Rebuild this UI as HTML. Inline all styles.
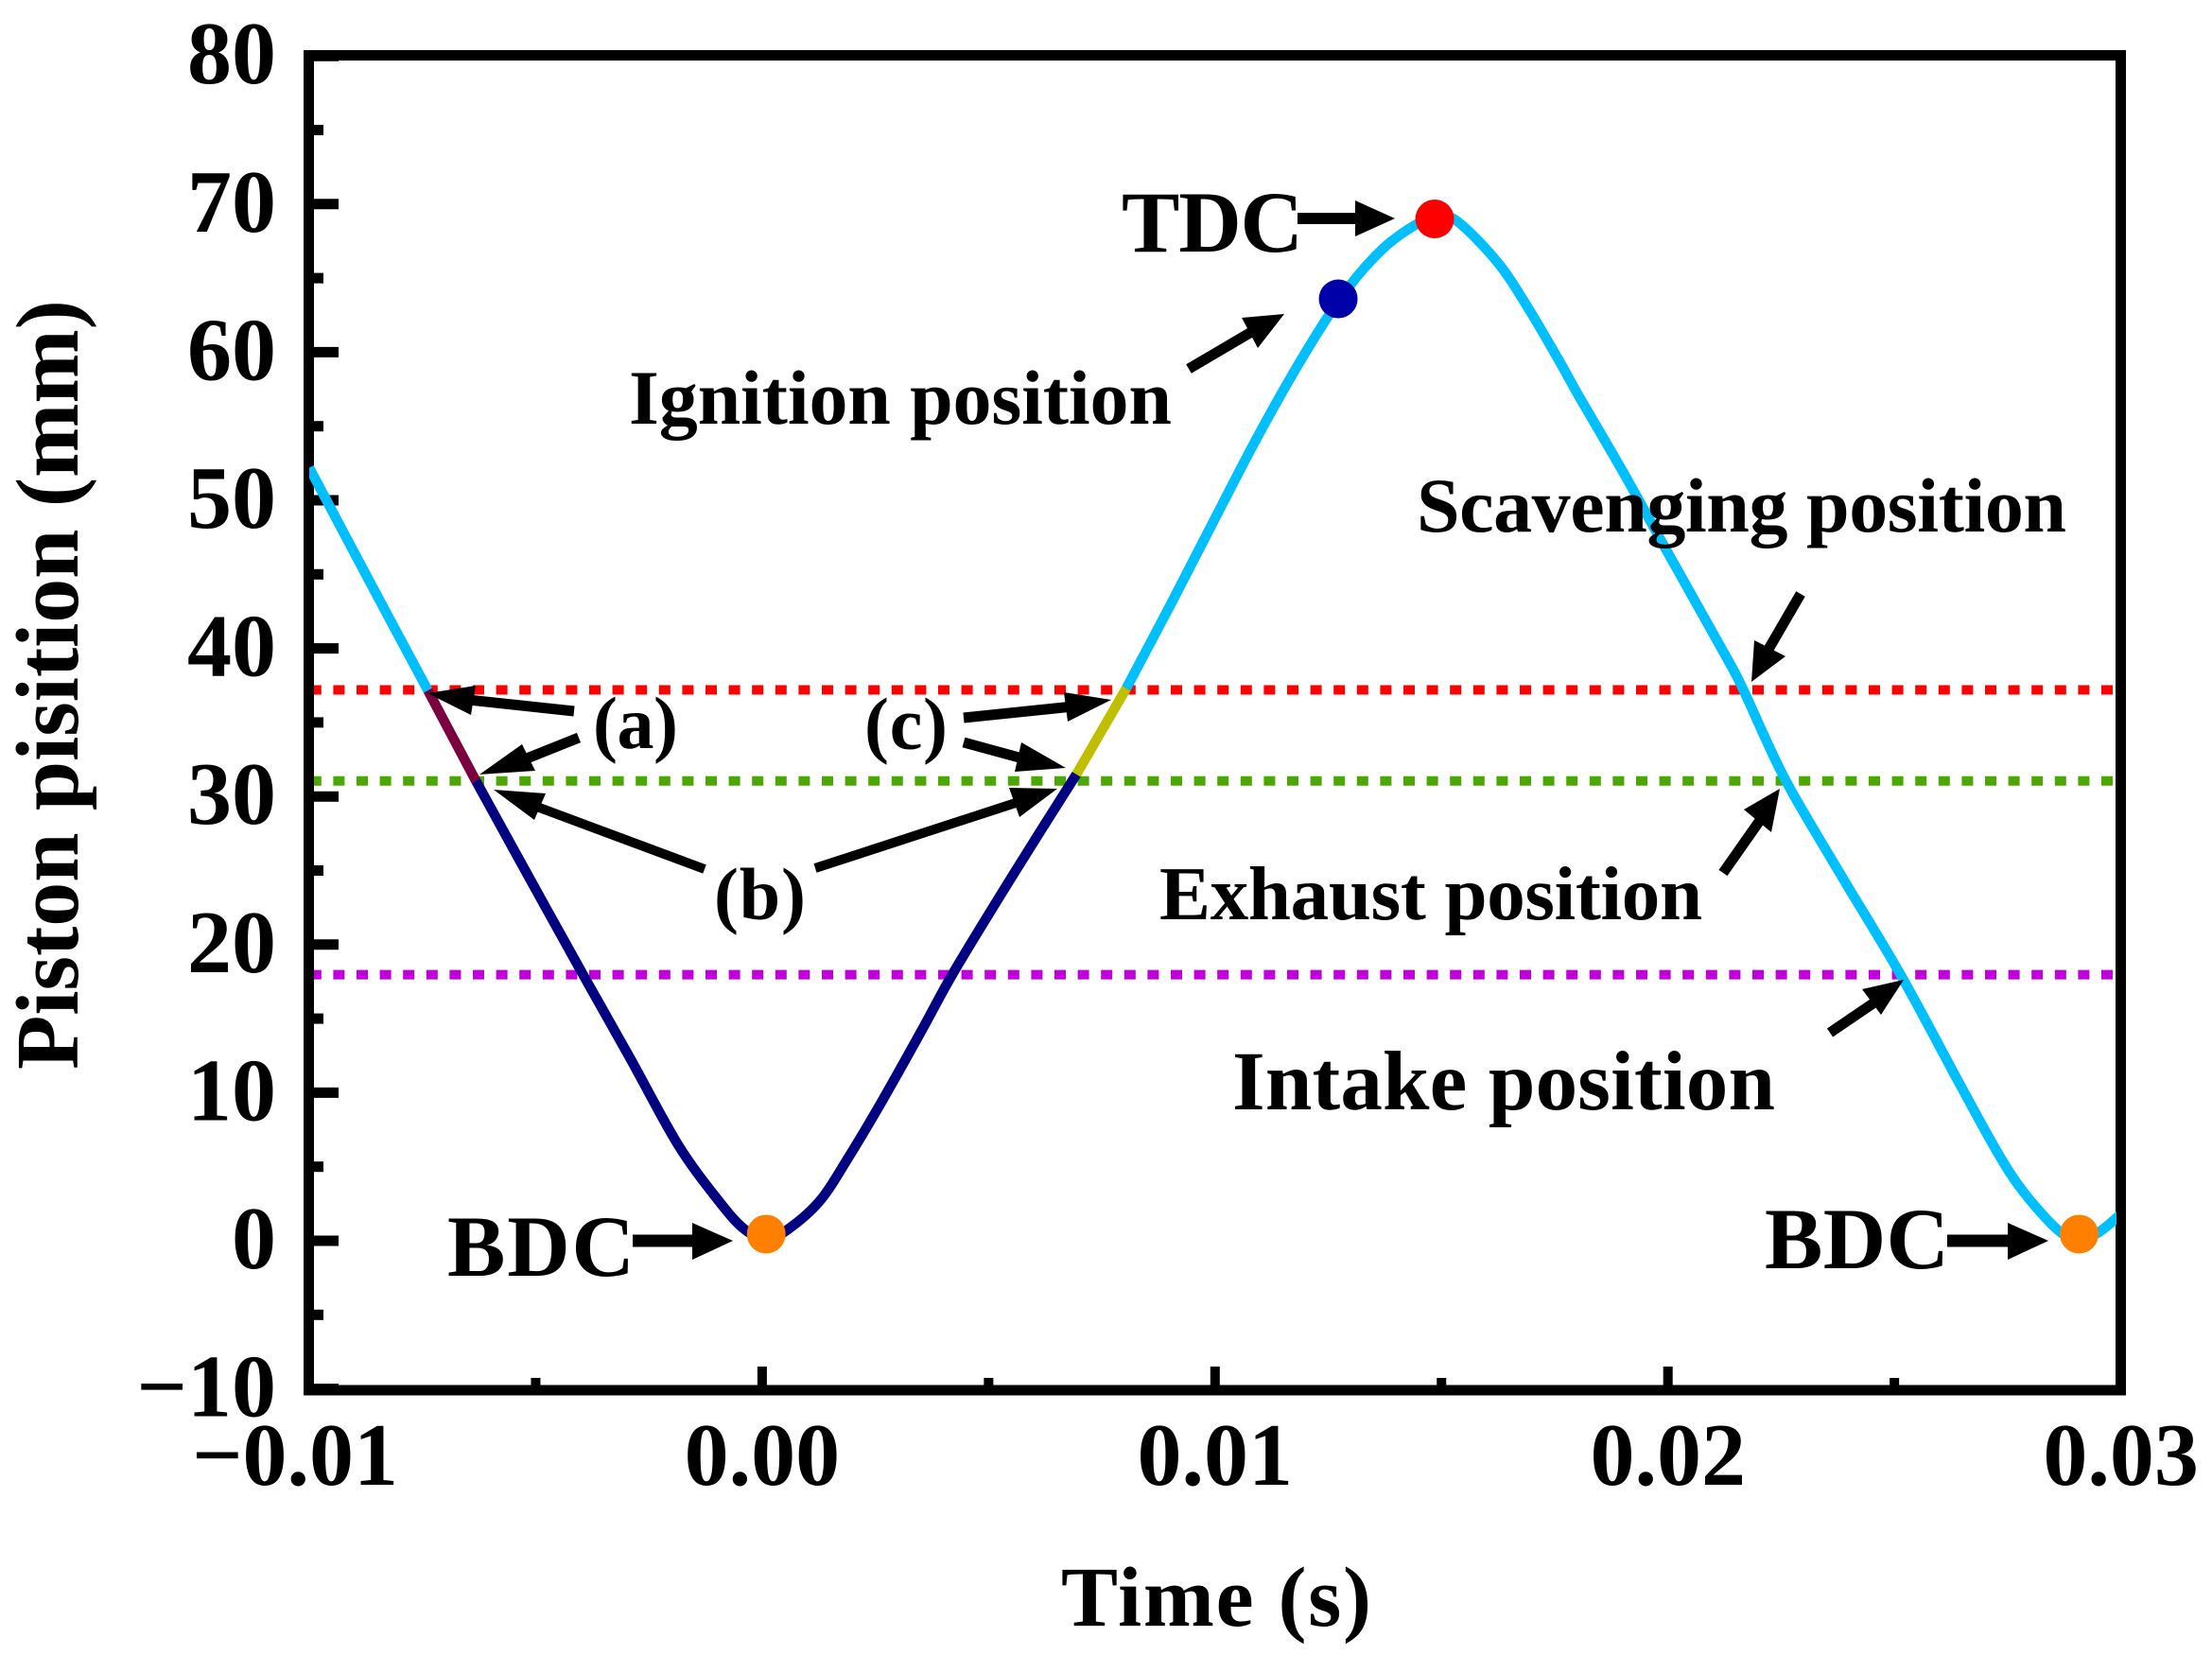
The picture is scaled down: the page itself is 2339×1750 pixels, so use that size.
<!DOCTYPE html>
<html lang="en">
<head>
<meta charset="utf-8">
<title>Piston position over time</title>
<style>
html,body{margin:0;padding:0;background:#fff;}
#chart{display:block;width:2339px;height:1750px;}
text{font-family:"Liberation Serif",serif;font-weight:bold;fill:#000;}
</style>
</head>
<body>
<svg id="chart" xmlns="http://www.w3.org/2000/svg" width="2339" height="1750" viewBox="0 0 2339 1750">
  <defs>
    <clipPath id="plot-clip"><rect x="327" y="50" width="1911" height="1430"/></clipPath>
  </defs>
  <g id="grid-layer"></g>
  <g id="axis-layer"></g>
  <g id="series-layer" clip-path="url(#plot-clip)"></g>
  <g id="marker-layer"></g>

  <text x="82" y="1131" font-size="94" transform="rotate(-90 82 1131)" textLength="814" lengthAdjust="spacing">Piston pisition (mm)</text>
  <text x="1122" y="1719" font-size="90" textLength="328" lengthAdjust="spacing">Time (s)</text>

  <g>
    <text x="1186" y="266" font-size="92" textLength="192" lengthAdjust="spacing">TDC</text>
    <text x="665" y="448" font-size="82" textLength="574" lengthAdjust="spacing">Ignition position</text>
    <text x="1498" y="562" font-size="82" textLength="687" lengthAdjust="spacing">Scavenging position</text>
    <text x="1226" y="972" font-size="81" textLength="574" lengthAdjust="spacing">Exhaust position</text>
    <text x="1303" y="1173" font-size="89" textLength="574" lengthAdjust="spacing">Intake position</text>
    <text x="473" y="1349" font-size="92" textLength="198" lengthAdjust="spacing">BDC</text>
    <text x="1866" y="1341" font-size="92" textLength="195" lengthAdjust="spacing">BDC</text>
    <text x="627" y="791" font-size="78" textLength="90" lengthAdjust="spacing">(a)</text>
    <text x="914" y="792" font-size="78" textLength="88" lengthAdjust="spacing">(c)</text>
    <text x="755" y="972" font-size="78" textLength="97" lengthAdjust="spacing">(b)</text>
  </g>

  <g stroke="#000" fill="#000">
    <g><line x1="1372" y1="231" x2="1440" y2="231" stroke-width="12"/><polygon points="1475,231 1433,212 1433,250" stroke="none"/></g>
    <g><line x1="1257" y1="390" x2="1325" y2="350" stroke-width="11"/><polygon points="1358,332 1313,336 1330,368" stroke="none"/></g>
    <g><line x1="669" y1="1312" x2="740" y2="1312" stroke-width="13"/><polygon points="775,1312 732,1293 732,1332" stroke="none"/></g>
    <g><line x1="2059" y1="1312" x2="2130" y2="1312" stroke-width="13"/><polygon points="2166,1312 2123,1293 2123,1332" stroke="none"/></g>
    <g><line x1="607" y1="752" x2="495" y2="740" stroke-width="11"/><polygon points="452,733 503,725 498,756" stroke="none"/></g>
    <g><line x1="612" y1="780" x2="552" y2="804" stroke-width="11"/><polygon points="507,819 552,787 566,815" stroke="none"/></g>
    <g><line x1="1019" y1="759" x2="1135" y2="747" stroke-width="11"/><polygon points="1175,740 1125,732 1129,763" stroke="none"/></g>
    <g><line x1="1019" y1="785" x2="1085" y2="803" stroke-width="11"/><polygon points="1127,812 1080,785 1073,816" stroke="none"/></g>
    <g><line x1="745" y1="919" x2="565" y2="852" stroke-width="10"/><polygon points="522,835 577,839 565,867" stroke="none"/></g>
    <g><line x1="862" y1="918" x2="1080" y2="847" stroke-width="10"/><polygon points="1118,834 1067,833 1078,864" stroke="none"/></g>
    <g><line x1="1904" y1="628" x2="1868" y2="690" stroke-width="11"/><polygon points="1852,721 1855,677 1888,694" stroke="none"/></g>
    <g><line x1="1822" y1="923" x2="1862" y2="866" stroke-width="11"/><polygon points="1882,834 1844,856 1873,880" stroke="none"/></g>
    <g><line x1="1935" y1="1092" x2="1985" y2="1058" stroke-width="11"/><polygon points="2013,1036 1969,1046 1989,1073" stroke="none"/></g>
  </g>
</svg>
<script>
// Axis tick values and labels
var xMajorTicks = [-0.01, 0, 0.01, 0.02, 0.03];
var xMajorLabels = ["\u22120.01", "0.00", "0.01", "0.02", "0.03"];
var xMinorTicks = [-0.005, 0.005, 0.015, 0.025];
var yMajorTicks = [-10, 0, 10, 20, 30, 40, 50, 60, 70, 80];
var yMajorLabels = ["\u221210", "0", "10", "20", "30", "40", "50", "60", "70", "80"];
var yMinorTicks = [-5, 5, 15, 25, 35, 45, 55, 65, 75];

// Horizontal port positions (mm)
var scavengingLevel = 37.2;
var exhaustLevel = 31.05;
var intakeLevel = 17.97;

// Piston trajectory segments: time (s) and position (mm)
var approachTime = [-0.01, -0.0087, -0.00738];
var approachPosition = [52.2, 44.7, 37.16];
var phaseATime = [-0.00738, -0.00632];
var phaseAPosition = [37.16, 31.05];
var phaseBTime = [-0.00632, -0.00514, -0.00396, -0.00291, -0.00186, -0.00096, -0.0004, 0.00009, 0.00057, 0.00127, 0.0019, 0.00266, 0.00354, 0.00426, 0.0056, 0.00694];
var phaseBPosition = [31.05, 24.5, 18.0, 12.3, 6.5, 2.7, 0.8, 0.1, 0.77, 2.68, 5.6, 9.5, 14.3, 18.3, 25.0, 31.5];
var phaseCTime = [0.00694, 0.00804];
var phaseCPosition = [31.5, 37.3];
var strokeTime = [0.00804, 0.00906, 0.00997, 0.01087, 0.01171, 0.01247, 0.01303, 0.01345, 0.01386, 0.01443, 0.01485, 0.01532, 0.01623, 0.01693, 0.01762, 0.01804, 0.01902, 0.01999, 0.02131, 0.02168, 0.02258, 0.02378, 0.02513, 0.02644, 0.02727, 0.02785, 0.02862, 0.02908, 0.02951, 0.03];
var strokePosition = [37.3, 43.2, 48.6, 53.9, 58.5, 62.3, 64.7, 66.2, 67.4, 68.6, 69.1, 68.9, 66.1, 62.9, 59.3, 57.0, 51.85, 46.5, 39.3, 37.1, 31.2, 24.9, 18.0, 10.6, 6.0, 3.3, 0.7, 0.1, 0.57, 1.8];

// Marked events
var tdcTime = 0.01485;
var tdcPosition = 69.0;
var ignitionTime = 0.01272;
var ignitionPosition = 63.6;
var bdcFirstTime = 0.00009;
var bdcFirstPosition = 0.45;
var bdcSecondTime = 0.02908;
var bdcSecondPosition = 0.45;

var SVGNS = "http://www.w3.org/2000/svg";
function xScale(t) { return 805.9 + 47890 * t; }
function yScale(v) { return 1312 - 15.66 * v; }
function make(tag, parent) {
  var el = document.createElementNS(SVGNS, tag);
  parent.appendChild(el);
  return el;
}
function setAll(el, attrs) {
  for (var k in attrs) { el.setAttribute(k, attrs[k]); }
}

// Reference lines
var gridLayer = document.getElementById("grid-layer");
function drawLevel(level, color, name) {
  var line = make("line", gridLayer);
  setAll(line, { x1: 327.8, x2: 2238, y1: yScale(level), y2: yScale(level), stroke: color, "stroke-width": 10, "stroke-dasharray": "12 12.6" });
  
  
}
drawLevel(scavengingLevel, "#ff0000", "scavenging-level-line");
drawLevel(exhaustLevel, "#4aa800", "exhaust-level-line");
drawLevel(intakeLevel, "#c000d8", "intake-level-line");

// Axes
var axisLayer = document.getElementById("axis-layer");
var frame = make("rect", axisLayer);
setAll(frame, { x: 326.5, y: 58.5, width: 1916, height: 1411.5, fill: "none", stroke: "#000", "stroke-width": 11 });



xMajorTicks.forEach(function (t, i) {
  var tick = make("line", axisLayer);
  setAll(tick, { x1: xScale(t), x2: xScale(t), y1: 1470, y2: 1445, stroke: "#000", "stroke-width": 10 });
  
  
  var label = make("text", axisLayer);
  setAll(label, { x: xScale(t) + (t < 0 ? -15 : 0), y: 1570, "font-size": 94, "text-anchor": "middle" });
  label.textContent = xMajorLabels[i];
  
  
});
xMinorTicks.forEach(function (t) {
  var tick = make("line", axisLayer);
  setAll(tick, { x1: xScale(t), x2: xScale(t), y1: 1470, y2: 1457, stroke: "#000", "stroke-width": 10 });
  
  
});
yMajorTicks.forEach(function (v, i) {
  var tick = make("line", axisLayer);
  setAll(tick, { x1: 327, x2: 358, y1: yScale(v), y2: yScale(v), stroke: "#000", "stroke-width": 11 });
  
  
  var label = make("text", axisLayer);
  setAll(label, { x: 292, y: yScale(v) + 29, "font-size": 94, "text-anchor": "end" });
  label.textContent = yMajorLabels[i];
  
  
});
yMinorTicks.forEach(function (v) {
  var tick = make("line", axisLayer);
  setAll(tick, { x1: 327, x2: 342, y1: yScale(v), y2: yScale(v), stroke: "#000", "stroke-width": 11 });
  
  
});

// Curve segments (Catmull-Rom smoothing through the read points)
function curvePath(times, positions) {
  var pts = times.map(function (t, i) { return [xScale(t), yScale(positions[i])]; });
  var d = "M" + pts[0][0] + " " + pts[0][1];
  for (var i = 0; i < pts.length - 1; i++) {
    var p0 = pts[Math.max(i - 1, 0)], p1 = pts[i], p2 = pts[i + 1], p3 = pts[Math.min(i + 2, pts.length - 1)];
    var c1x = p1[0] + (p2[0] - p0[0]) / 6, c1y = p1[1] + (p2[1] - p0[1]) / 6;
    var c2x = p2[0] - (p3[0] - p1[0]) / 6, c2y = p2[1] - (p3[1] - p1[1]) / 6;
    d += " C" + c1x + " " + c1y + " " + c2x + " " + c2y + " " + p2[0] + " " + p2[1];
  }
  return d;
}
var seriesLayer = document.getElementById("series-layer");
function drawSegment(times, positions, color, name) {
  var path = make("path", seriesLayer);
  setAll(path, { d: curvePath(times, positions), fill: "none", stroke: color, "stroke-width": 10.5, "stroke-linejoin": "round" });
  
  
}
drawSegment(approachTime, approachPosition, "#00bfff", "curve-approach-segment");
drawSegment(strokeTime, strokePosition, "#00bfff", "curve-stroke-segment");
drawSegment(phaseBTime, phaseBPosition, "#000080", "curve-phase-b-segment");
drawSegment(phaseATime, phaseAPosition, "#7a0040", "curve-phase-a-segment");
drawSegment(phaseCTime, phaseCPosition, "#bfbf00", "curve-phase-c-segment");

// Event markers
var markerLayer = document.getElementById("marker-layer");
function drawMarker(t, v, color, name) {
  var dot = make("circle", markerLayer);
  setAll(dot, { cx: xScale(t), cy: yScale(v), r: 20.5, fill: color });
  
  
}
drawMarker(tdcTime, tdcPosition, "#ff0000", "tdc-marker");
drawMarker(ignitionTime, ignitionPosition, "#0000a8", "ignition-marker");
drawMarker(bdcFirstTime, bdcFirstPosition, "#ff8000", "bdc-marker-first");
drawMarker(bdcSecondTime, bdcSecondPosition, "#ff8000", "bdc-marker-second");
</script>
</body>
</html>
